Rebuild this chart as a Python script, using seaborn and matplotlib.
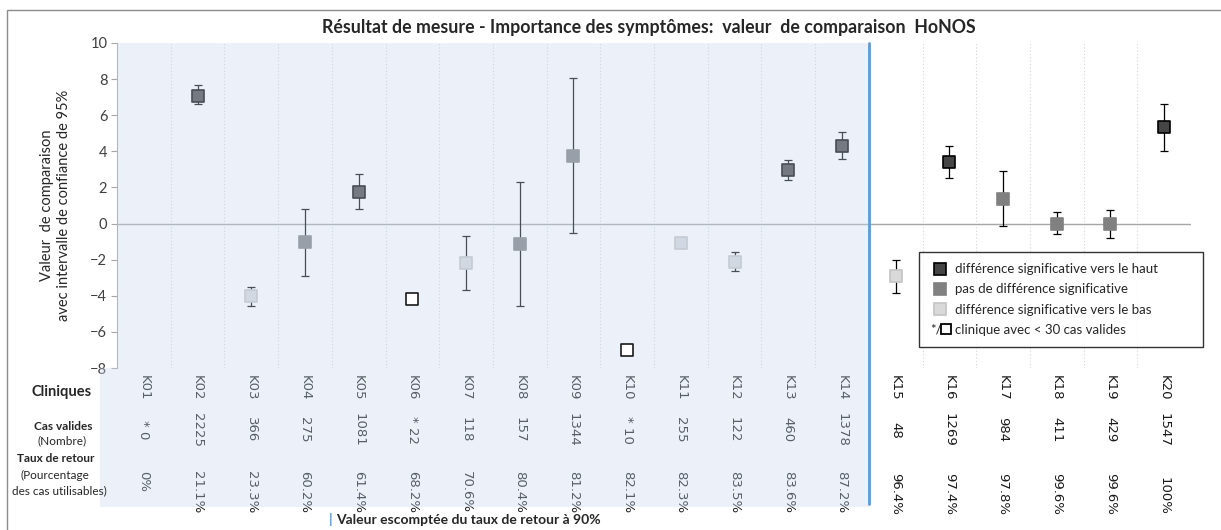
import numpy as np
import pandas as pd
import seaborn as sns
import matplotlib.pyplot as plt
from matplotlib import transforms
from matplotlib.lines import Line2D
from matplotlib.patches import Rectangle
from matplotlib.text import Text
from matplotlib.legend_handler import HandlerBase

# Data
cliniques = ["K01", "K02", "K03", "K04", "K05", "K06", "K07", "K08", "K09", "K10",
             "K11", "K12", "K13", "K14", "K15", "K16", "K17", "K18", "K19", "K20"]
valeur = [np.nan, 7.08, -4.0, -1.04, 1.77, -4.19, -2.16, -1.13, 3.76, -7.0,
          -1.09, -2.13, 2.97, 4.31, -2.92, 3.39, 1.36, 0.0, 0.0, 5.35]
ic_haut = [np.nan, 7.65, -3.5, 0.81, 2.73, np.nan, -0.70, 2.32, 8.06, np.nan,
           np.nan, -1.59, 3.52, 5.09, -2.03, 4.28, 2.93, 0.63, 0.77, 6.64]
ic_bas = [np.nan, 6.6, -4.56, -2.9, 0.81, np.nan, -3.68, -4.56, -0.52, np.nan,
          np.nan, -2.62, 2.41, 3.58, -3.84, 2.51, -0.15, -0.59, -0.78, 4.0]
statut = ["aucun", "haut", "bas", "ns", "haut", "petit", "bas", "ns", "ns", "petit",
          "bas", "bas", "haut", "haut", "bas", "haut", "ns", "ns", "ns", "haut"]
cas_valides = ["* 0", "2225", "366", "275", "1081", "* 22", "118", "157", "1344", "* 10",
               "255", "122", "460", "1378", "48", "1269", "984", "411", "429", "1547"]
taux_retour = ["0%", "21.1%", "23.3%", "60.2%", "61.4%", "68.2%", "70.6%", "80.4%", "81.2%", "82.1%",
               "82.3%", "83.5%", "83.6%", "87.2%", "96.4%", "97.4%", "97.8%", "99.6%", "99.6%", "100%"]
n_sous_90 = 14  # cliniques below the expected 90% return rate

legend_labels = {"haut": "différence significative vers le haut",
                 "ns": "pas de différence significative",
                 "bas": "différence significative vers le bas",
                 "petit": "clinique avec < 30 cas valides"}

df = pd.DataFrame({"clinique": cliniques, "valeur": valeur, "haut": ic_haut,
                   "bas": ic_bas, "statut": statut})
df["pos"] = np.arange(len(df))

styles = {"haut": dict(color="#454545", edgecolor="black"),
          "ns": dict(color="#808080", edgecolor="#808080"),
          "bas": dict(color="#d9d9d9", edgecolor="#c4c4c4"),
          "petit": dict(color="white", edgecolor="#1a1a1a")}

sns.set_style("white")
plt.rcParams["font.family"] = ["Lato", "DejaVu Sans"]

W, H = 1221, 530
fig = plt.figure(figsize=(W / 100, H / 100), dpi=100)
ax = fig.add_axes([117 / W, 1 - 368 / H, (1191 - 117) / W, (368 - 43) / H])

# error bars
eb = df.dropna(subset=["haut", "bas"])
ax.errorbar(eb.pos, eb.valeur, yerr=[eb.valeur - eb.bas, eb.haut - eb.valeur],
            fmt="none", ecolor="black", elinewidth=0.9, capsize=3.2, capthick=0.9, zorder=2)

for key, grp in df[df.statut != "aucun"].groupby("statut"):
    sns.scatterplot(x=grp.pos.values, y=grp.valeur.values, marker="s", s=82,
                    linewidth=1.2, ax=ax, zorder=4 if key == "petit" else 2.5,
                    **styles[key])

ax.axhline(0, color="#a6a6a6", lw=1, zorder=1)
ax.vlines(np.arange(0.5, 20, 1), -8, 10, colors="#d4d4d4", lw=0.8,
          linestyles=(0, (1, 2)), zorder=0)

# blue shaded area (clinics below 90%)
ax.axvspan(-0.5, n_sous_90 - 0.5, color="#c8d8f1", alpha=0.36, lw=0, zorder=3)
ax.axvline(n_sous_90 - 0.5, ymin=(368 - 504) / 325, ymax=1, color="#5b9bd5",
           lw=2, clip_on=False, zorder=6)

ax.set_xlim(-0.5, 19.5)
ax.set_ylim(-8, 10)
ax.set_yticks(np.arange(-8, 11, 2))
ax.set_xticks([])
ax.tick_params(axis="y", labelsize=10.5, labelcolor="#404040", length=4,
               color="#a6a6a6", left=True, pad=3)
for s in ["top", "right", "bottom"]:
    ax.spines[s].set_visible(False)
ax.spines["left"].set_color("#a6a6a6")
ax.set_ylabel("Valeur  de comparaison\navec intervalle de confiance de 95%",
              fontsize=10.5, color="#262626", labelpad=14, linespacing=1.3)

# table below the chart
trans = transforms.blended_transform_factory(ax.transData, fig.transFigure)
for i in range(len(cliniques)):
    c = "#1a1a1a"
    ax.text(i, 1 - 388 / H, cliniques[i], rotation=270, ha="center", va="center",
            fontsize=9.5, family="DejaVu Sans", color=c, transform=trans, clip_on=False)
    ax.text(i, 1 - 430 / H, cas_valides[i], rotation=270, ha="center", va="center",
            fontsize=9.5, family="DejaVu Sans", color=c, transform=trans, clip_on=False)
    if i < n_sous_90:
        ax.text(i, 1 - 471 / H, taux_retour[i], rotation=270, ha="center", va="top",
                fontsize=9.5, family="DejaVu Sans", color=c, transform=trans, clip_on=False)
    else:
        ax.text(i, 1 - 515 / H, taux_retour[i], rotation=270, ha="center", va="bottom",
                fontsize=9.5, family="DejaVu Sans", color=c, transform=trans, clip_on=False)

ax.add_patch(Rectangle((-0.82, 1 - 507 / H), n_sous_90 - 0.5 + 0.82, (507 - 368) / H,
                       transform=trans, facecolor="#c8d8f1", alpha=0.36, lw=0,
                       zorder=5, clip_on=False))

fig.text(62 / W, 1 - 392 / H, "Cliniques", ha="center", va="center", fontsize=10.5, weight="bold")
fig.text(63 / W, 1 - 426 / H, "Cas valides", ha="center", va="center", fontsize=8.5, weight="bold")
fig.text(62 / W, 1 - 441 / H, "(Nombre)", ha="center", va="center", fontsize=8.5)
fig.text(56 / W, 1 - 459 / H, "Taux de retour", ha="center", va="center", fontsize=8.5, weight="bold")
fig.text(55 / W, 1 - 475 / H, "(Pourcentage", ha="center", va="center", fontsize=8.5)
fig.text(59 / W, 1 - 491 / H, "des cas utilisables)", ha="center", va="center", fontsize=8.5)

fig.text(649 / W, 1 - 28 / H,
         "Résultat de mesure - Importance des symptômes:  valeur  de comparaison  HoNOS",
         ha="center", va="center", fontsize=12.8, weight="bold")
fig.text(329 / W, 1 - 520 / H, "|", ha="left", va="center", fontsize=10, color="#5b9bd5",
         weight="bold")
fig.text(336 / W, 1 - 520 / H, "Valeur escomptée du taux de retour à 90%",
         ha="left", va="center", fontsize=10, weight="bold")


class HandlerPetit(HandlerBase):
    def create_artists(self, legend, orig_handle, xdescent, ydescent, width, height,
                       fontsize, trans):
        yc = -ydescent + height / 2
        star = Text(-xdescent, yc, "*/", fontsize=fontsize,
                    va="center", ha="left", transform=trans)
        sq = Line2D([-xdescent + width * 0.82], [yc], marker="s", ls="", mfc="white",
                    mec="black", mew=1.3, ms=7.5, transform=trans)
        return [star, sq]


handles = []
for key in ["haut", "ns", "bas"]:
    handles.append(Line2D([], [], marker="s", ls="", ms=8, mfc=styles[key]["color"],
                          mec=styles[key]["edgecolor"], mew=1.2))
petit_handle = Line2D([], [])
handles.append(petit_handle)
leg = ax.legend(handles, [legend_labels[k] for k in ["haut", "ns", "bas", "petit"]],
                handler_map={petit_handle: HandlerPetit()},
                loc="upper left", mode="expand",
                bbox_to_anchor=(919 / W, 1 - 350 / H, (1203 - 919) / W, (350 - 252) / H),
                bbox_transform=fig.transFigure, fontsize=9.5, frameon=True, fancybox=False,
                edgecolor="black", handlelength=1.5, handletextpad=0.4,
                labelspacing=0.62, borderpad=0.85, borderaxespad=0)
leg.get_frame().set_linewidth(1.0)
leg.set_zorder(7)

# outer border (open on the right and bottom, as in the reference crop)
fig.patches.append(Rectangle((7 / W, -0.05), 1.0, 1 - 10 / H + 0.05,
                             transform=fig.transFigure, fill=False, ec="#8c8c8c", lw=1))

fig.savefig("out.png", dpi=100)
